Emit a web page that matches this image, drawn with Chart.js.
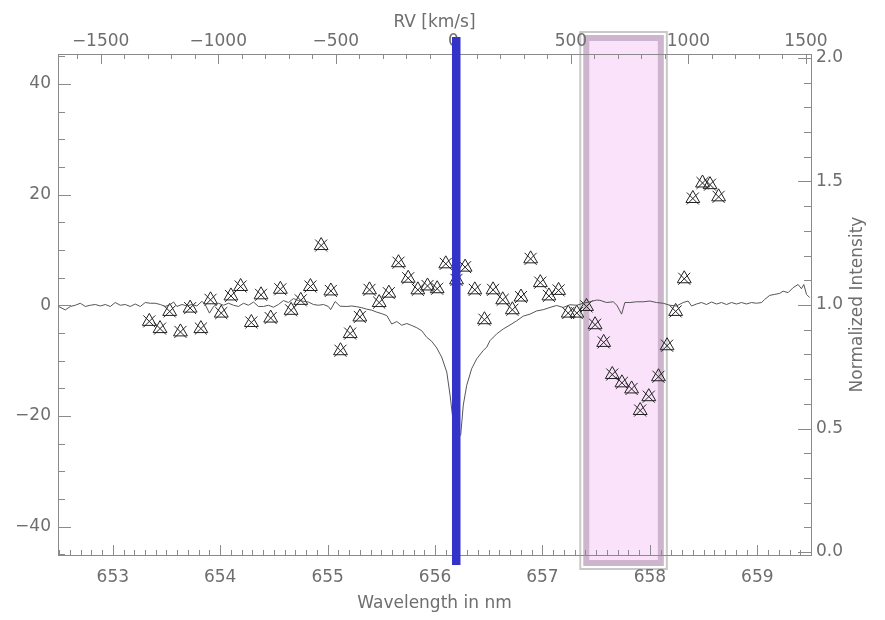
<!DOCTYPE html>
<html>
<head>
<meta charset="utf-8">
<script src="https://cdn.jsdelivr.net/npm/chart.js@4/dist/chart.umd.min.js"></script>
<style>
  body { margin: 0; background: #fff; }
  #grafico { display: block; }
</style>
</head>
<body>
<canvas id="grafico" width="885" height="620"></canvas>
<script>
// espectro normalizado (nm, intensidade)
const comprimentosEspectro = [
  652.496, 652.558, 652.605, 652.651, 652.698, 652.744, 652.791, 652.837, 652.884, 652.930,
  652.977, 653.023, 653.070, 653.116, 653.163, 653.209, 653.256, 653.302, 653.349, 653.395,
  653.442, 653.488, 653.535, 653.566, 653.597, 653.644, 653.690, 653.737, 653.783, 653.830,
  653.860, 653.900, 653.938, 653.984, 654.031, 654.077, 654.124, 654.170, 654.217, 654.263,
  654.310, 654.356, 654.403, 654.449, 654.496, 654.542, 654.589, 654.635, 654.682, 654.728,
  654.775, 654.821, 654.868, 654.914, 654.961, 655.007, 655.028, 655.070, 655.116, 655.179,
  655.225, 655.272, 655.318, 655.365, 655.411, 655.458, 655.504, 655.551, 655.597, 655.644,
  655.690, 655.737, 655.783, 655.830, 655.876, 655.923, 655.969, 656.016, 656.062, 656.109,
  656.140, 656.165, 656.186, 656.205, 656.239, 656.263, 656.295, 656.341, 656.388, 656.449,
  656.481, 656.512, 656.574, 656.635, 656.698, 656.760, 656.821, 656.884, 656.946, 657.007,
  657.070, 657.132, 657.193, 657.256, 657.318, 657.380, 657.442, 657.504, 657.535, 657.597,
  657.659, 657.693, 657.737, 657.767, 657.814, 657.876, 657.938, 658.000, 658.062, 658.124,
  658.186, 658.248, 658.310, 658.356, 658.388, 658.434, 658.481, 658.527, 658.574, 658.621,
  658.667, 658.714, 658.760, 658.807, 658.853, 658.900, 658.946, 658.993, 659.040, 659.070,
  659.116, 659.163, 659.209, 659.240, 659.287, 659.333, 659.380, 659.411, 659.433, 659.458,
  659.488
]
const intensidadeEspectro = [
  0.994, 0.980, 0.994, 0.999, 1.007, 0.994, 0.999, 1.002, 0.996, 1.002,
  0.994, 1.010, 0.999, 1.002, 0.994, 1.004, 0.994, 1.010, 1.007, 1.007,
  1.002, 0.994, 1.002, 1.012, 0.994, 1.002, 0.996, 1.002, 0.996, 1.015,
  1.002, 0.967, 0.994, 1.007, 0.999, 1.007, 0.999, 0.994, 1.007, 0.999,
  1.012, 0.994, 0.994, 0.999, 0.991, 1.002, 1.018, 1.010, 1.026, 1.018,
  1.015, 1.012, 1.002, 0.999, 1.002, 0.994, 0.981, 1.014, 0.995, 0.994,
  0.996, 0.993, 0.989, 0.983, 0.979, 0.971, 0.965, 0.957, 0.923, 0.933,
  0.918, 0.925, 0.917, 0.908, 0.896, 0.869, 0.853, 0.826, 0.789, 0.729,
  0.635, 0.542, 0.475, 0.453, 0.475, 0.595, 0.675, 0.742, 0.782, 0.816,
  0.829, 0.856, 0.883, 0.903, 0.919, 0.936, 0.955, 0.963, 0.976, 0.981,
  0.990, 0.998, 0.990, 1.001, 0.999, 1.007, 1.013, 1.020, 1.019, 1.010,
  1.013, 0.999, 0.963, 1.010, 1.010, 1.013, 1.013, 1.016, 1.010, 1.007,
  0.999, 0.996, 1.010, 1.016, 0.996, 1.004, 1.010, 1.002, 1.012, 1.004,
  1.010, 1.002, 1.010, 1.004, 1.010, 1.004, 1.010, 1.007, 1.010, 1.023,
  1.039, 1.043, 1.047, 1.056, 1.050, 1.070, 1.083, 1.066, 1.083, 1.043,
  1.030
]

// medidas de RV (nm, km/s)
const comprimentosRV = [
  653.34, 653.44, 653.53, 653.63, 653.72, 653.82, 653.91, 654.01, 654.10, 654.19,
  654.29, 654.38, 654.47, 654.56, 654.66, 654.75, 654.84, 654.94, 655.03, 655.12,
  655.21, 655.30, 655.39, 655.48, 655.57, 655.66, 655.75, 655.84, 655.93, 656.02,
  656.10, 656.20, 656.28, 656.37, 656.46, 656.54, 656.63, 656.72, 656.80, 656.89,
  656.98, 657.06, 657.15, 657.24, 657.32, 657.41, 657.49, 657.57, 657.65, 657.74,
  657.83, 657.91, 657.99, 658.08, 658.16, 658.24, 658.32, 658.40, 658.49, 658.56,
  658.64
]
const valoresRV = [
  -2.9, -4.2, -1.1, -4.8, -0.5, -4.2, 1.0, -1.4, 1.7, 3.4,
  -3.1, 1.9, -2.3, 2.9, -0.9, 0.9, 3.4, 10.8, 2.6, -8.2,
  -5.1, -2.1, 2.8, 0.5, 2.2, 7.7, 4.9, 2.8, 3.5, 3.0,
  7.5, 4.6, 6.9, 2.8, -2.6, 2.8, 1.0, -0.8, 1.5, 8.4,
  4.1, 1.7, 2.7, -1.4, -1.4, -0.2, -3.5, -6.7, -12.5, -14.0,
  -15.1, -19.0, -16.5, -12.9, -7.3, -1.1, 4.8, 19.3, 22.1, 21.8,
  19.6
]

const ticksComprimento = [653, 654, 655, 656, 657, 658, 659]
const ticksRV = [-1500, -1000, -500, 0, 500, 1000, 1500]
const ticksEsquerda = [-40, -20, 0, 20, 40]
const ticksDireita = [0, 0.5, 1.0, 1.5, 2.0]

const linhaCentral = 656.195
const lambdaZeroRV = 656.17
const faixaDestacada = [657.38, 658.13]
const limitesComprimento = [652.49, 659.5]

const velocidadeLuz = 299792.458
const corEixo = '#8a8a8a'
const corTexto = '#6e6e6e'
const fonte = { family: 'DejaVu Sans', size: 17 }

function paraRV(lambda) {
  return (lambda - lambdaZeroRV) / lambdaZeroRV * velocidadeLuz
}

function comMenos(v) {
  return v < 0 ? '\u2212' + Math.abs(v) : String(v)
}

function juntarPontos(xs, ys) {
  return xs.map((x, i) => ({ x: x, y: ys[i] }))
}

// faixa rosa por baixo de tudo
const faixa = {
  id: 'faixa',
  beforeDraw(chart) {
    const { ctx, chartArea, scales } = chart
    const x1 = scales.x.getPixelForValue(faixaDestacada[0])
    const x2 = scales.x.getPixelForValue(faixaDestacada[1])
    const topo = chartArea.top - 19
    const base = chartArea.bottom + 11
    ctx.save()
    ctx.fillStyle = '#cdb6cd'
    ctx.fillRect(x1, topo, x2 - x1, base - topo)
    ctx.fillStyle = '#fae2fa'
    ctx.fillRect(x1 + 6, topo + 6, x2 - x1 - 12, base - topo - 12)
    ctx.strokeStyle = '#c9c9c9'
    ctx.lineWidth = 2
    ctx.strokeRect(x1 - 3, topo - 3, x2 - x1 + 6, base - topo + 6)
    ctx.restore()
  }
}

function desenhaMarcas(ctx, escala, passo, maiores, curto, longo, lado, area) {
  const inicio = Math.ceil(escala.min / passo - 1e-6)
  const fim = Math.floor(escala.max / passo + 1e-6)
  for (let k = inicio; k <= fim; k++) {
    const v = k * passo
    const maior = maiores.some(m => Math.abs(m - v) < passo / 10)
    const t = maior ? longo : curto
    const p = Math.round(escala.getPixelForValue(v)) + 0.5
    ctx.beginPath()
    if (lado === 'bottom') { ctx.moveTo(p, area.bottom); ctx.lineTo(p, area.bottom - t) }
    if (lado === 'top') { ctx.moveTo(p, area.top); ctx.lineTo(p, area.top + t) }
    if (lado === 'left') { ctx.moveTo(area.left, p); ctx.lineTo(area.left + t, p) }
    if (lado === 'right') { ctx.moveTo(area.right, p); ctx.lineTo(area.right - t, p) }
    ctx.stroke()
  }
}

// moldura e tracinhos para dentro, estilo IDL
const marcasEixos = {
  id: 'marcasEixos',
  beforeDatasetsDraw(chart) {
    const { ctx, chartArea, scales } = chart
    ctx.save()
    ctx.strokeStyle = corEixo
    ctx.lineWidth = 1
    ctx.strokeRect(chartArea.left + 0.5, chartArea.top + 0.5,
      chartArea.right - chartArea.left, chartArea.bottom - chartArea.top)
    desenhaMarcas(ctx, scales.x, 0.1, ticksComprimento, 5, 10, 'bottom', chartArea)
    desenhaMarcas(ctx, scales.xTopo, 100, ticksRV, 5, 10, 'top', chartArea)
    desenhaMarcas(ctx, scales.y, 5, ticksEsquerda, 7, 13, 'left', chartArea)
    desenhaMarcas(ctx, scales.yDireita, 0.1, ticksDireita, 7, 13, 'right', chartArea)
    ctx.restore()
  }
}

// barra azul por cima de tudo, e o titulo da direita lido de baixo pra cima
const barraAzul = {
  id: 'barraAzul',
  afterDraw(chart) {
    const { ctx, chartArea, scales } = chart
    const x = scales.x.getPixelForValue(linhaCentral)
    ctx.save()
    ctx.fillStyle = '#3333c9'
    ctx.fillRect(x - 4, chartArea.top - 17, 8.5, chartArea.bottom - chartArea.top + 27)

    ctx.translate(chartArea.right + 47, (chartArea.top + chartArea.bottom) / 2)
    ctx.rotate(-Math.PI / 2)
    ctx.font = fonte.size + 'px "' + fonte.family + '"'
    ctx.fillStyle = corTexto
    ctx.textAlign = 'center'
    ctx.textBaseline = 'middle'
    ctx.fillText('Normalized Intensity', 0, 0)
    ctx.restore()
  }
}

const grafico = document.querySelector('#grafico')

const graficoRV = new Chart(grafico, {
  type: 'scatter',
  data: {
    datasets: [
      {
        type: 'line',
        label: 'Espectro',
        data: juntarPontos(comprimentosEspectro, intensidadeEspectro),
        yAxisID: 'yDireita',
        borderColor: '#555555',
        borderWidth: 1,
        pointRadius: 0,
        tension: 0,
        fill: false
      },
      {
        label: 'RV triangulo',
        data: juntarPontos(comprimentosRV, valoresRV),
        yAxisID: 'y',
        pointStyle: 'triangle',
        pointRadius: 8,
        borderColor: '#222222',
        backgroundColor: 'rgba(0,0,0,0)',
        borderWidth: 1
      },
      {
        label: 'RV x',
        data: juntarPontos(comprimentosRV, valoresRV),
        yAxisID: 'y',
        pointStyle: 'crossRot',
        pointRadius: 8.5,
        borderColor: '#222222',
        borderWidth: 1
      }
    ]
  },
  options: {
    responsive: false,
    animation: false,
    layout: { padding: 0 },
    plugins: {
      legend: { display: false },
      tooltip: { enabled: false }
    },
    scales: {
      x: {
        type: 'linear',
        position: 'bottom',
        min: limitesComprimento[0],
        max: limitesComprimento[1],
        afterBuildTicks: (s) => { s.ticks = ticksComprimento.map(v => ({ value: v })) },
        afterFit: (s) => { s.height = 65 },
        grid: { display: false, drawTicks: false },
        border: { display: false },
        ticks: { font: fonte, color: corTexto, padding: 12, maxRotation: 0, callback: v => String(v) },
        title: { display: true, text: 'Wavelength in nm', font: fonte, color: corTexto, padding: { top: 0, bottom: 6 } }
      },
      xTopo: {
        type: 'linear',
        position: 'top',
        min: paraRV(limitesComprimento[0]),
        max: paraRV(limitesComprimento[1]),
        afterBuildTicks: (s) => { s.ticks = ticksRV.map(v => ({ value: v })) },
        afterFit: (s) => { s.height = 54 },
        grid: { display: false, drawTicks: false },
        border: { display: false },
        ticks: { font: fonte, color: corTexto, padding: 2, maxRotation: 0, callback: v => comMenos(v) },
        title: { display: true, text: 'RV [km/s]', font: fonte, color: corTexto, padding: { top: 12, bottom: 0 } }
      },
      y: {
        position: 'left',
        min: -45.1,
        max: 45.4,
        afterBuildTicks: (s) => { s.ticks = ticksEsquerda.map(v => ({ value: v })) },
        afterFit: (s) => { s.width = 58 },
        grid: { display: false, drawTicks: false },
        border: { display: false },
        ticks: { font: fonte, color: corTexto, padding: 7, callback: v => comMenos(v) }
      },
      yDireita: {
        position: 'right',
        min: -0.012,
        max: 2.016,
        afterBuildTicks: (s) => { s.ticks = ticksDireita.map(v => ({ value: v })) },
        afterFit: (s) => { s.width = 74 },
        grid: { display: false, drawTicks: false },
        border: { display: false },
        ticks: { font: fonte, color: corTexto, padding: 5, callback: v => v.toFixed(1) }
      }
    }
  },
  plugins: [faixa, marcasEixos, barraAzul]
})
</script>
</body>
</html>
